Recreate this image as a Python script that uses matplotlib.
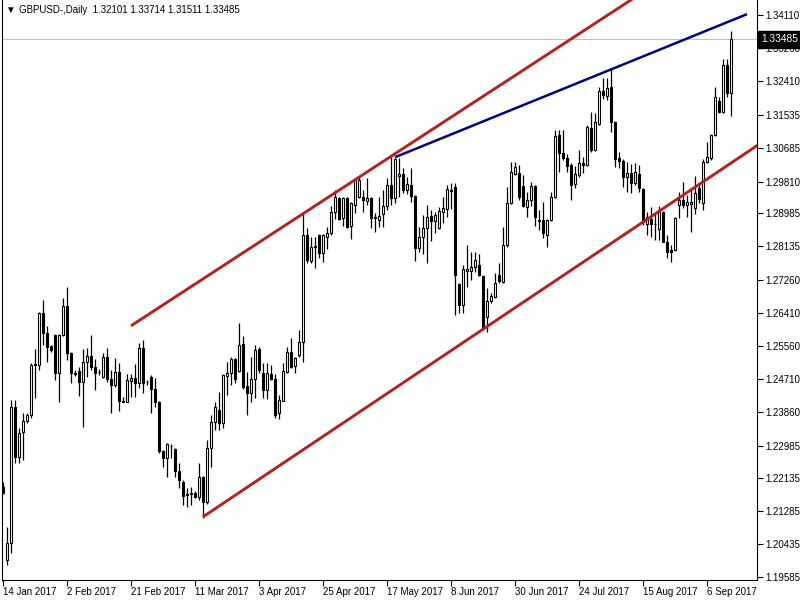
import matplotlib
matplotlib.use('Agg')
import matplotlib.pyplot as plt
import numpy as np

plt.rcParams['font.family'] = ['Liberation Sans', 'DejaVu Sans']

symbol = 'GBPUSD-,Daily'

# daily OHLC
opens = [
    1.2191, 1.2002, 1.2046, 1.2398, 1.2269, 1.2333, 1.2362, 1.2377, 1.2507, 1.2507,
    1.2641, 1.2590, 1.2556, 1.2584, 1.2486, 1.2584, 1.2659, 1.2538, 1.2486, 1.2491,
    1.2463, 1.2514, 1.2530, 1.2502, 1.2488, 1.2476, 1.2527, 1.2470, 1.2455, 1.2489,
    1.2414, 1.2412, 1.2465, 1.2473, 1.2460, 1.2551, 1.2462, 1.2476, 1.2445, 1.2411,
    1.2284, 1.2266, 1.2298, 1.2289, 1.2233, 1.2204, 1.2171, 1.2174, 1.2176, 1.2165,
    1.2217, 1.2152, 1.2292, 1.2359, 1.2390, 1.2357, 1.2478, 1.2486, 1.2522, 1.2491,
    1.2561, 1.2452, 1.2434, 1.2470, 1.2548, 1.2486, 1.2442, 1.2483, 1.2470, 1.2383,
    1.2414, 1.2489, 1.2540, 1.2504, 1.2533, 1.2566, 1.2843, 1.2776, 1.2812, 1.2843,
    1.2796, 1.2838, 1.2848, 1.2902, 1.2939, 1.2887, 1.2939, 1.2866, 1.2920, 1.2941,
    1.2941, 1.2931, 1.2939, 1.2887, 1.2882, 1.2897, 1.2918, 1.2972, 1.2939, 1.2995,
    1.3001, 1.2959, 1.2972, 1.2944, 1.2809, 1.2838, 1.2861, 1.2892, 1.2879, 1.2861,
    1.2902, 1.2910, 1.2959, 1.2967, 1.2716, 1.2662, 1.2750, 1.2750, 1.2760, 1.2765,
    1.2737, 1.2631, 1.2672, 1.2683, 1.2740, 1.2721, 1.2817, 1.2926, 1.3001, 1.3003,
    1.2970, 1.2915, 1.2933, 1.2970, 1.2879, 1.2882, 1.2843, 1.2882, 1.2941, 1.3101,
    1.3055, 1.3042, 1.3024, 1.2975, 1.2998, 1.3029, 1.3024, 1.3120, 1.3063, 1.3130,
    1.3215, 1.3202, 1.3226, 1.3135, 1.3042, 1.3034, 1.2993, 1.3003, 1.2977, 1.3001,
    1.2962, 1.2871, 1.2884, 1.2872, 1.2858, 1.2902, 1.2825, 1.2804, 1.2804, 1.2920,
    1.2933, 1.2920, 1.2923, 1.2913, 1.2964, 1.2926, 1.3032, 1.3042, 1.3101, 1.3189,
    1.3161, 1.3282, 1.32101,
]
highs = [
    1.2204, 1.2088, 1.2416, 1.2416, 1.2344, 1.2383, 1.2383, 1.2512, 1.2548, 1.2643,
    1.2675, 1.2608, 1.2558, 1.2586, 1.2586, 1.2680, 1.2708, 1.2540, 1.2494, 1.2502,
    1.2548, 1.2551, 1.2584, 1.2522, 1.2496, 1.2538, 1.2551, 1.2494, 1.2525, 1.2512,
    1.2424, 1.2483, 1.2483, 1.2509, 1.2564, 1.2571, 1.2468, 1.2481, 1.2473, 1.2413,
    1.2286, 1.2304, 1.2302, 1.2291, 1.2253, 1.2209, 1.2189, 1.2191, 1.2181, 1.2253,
    1.2219, 1.2313, 1.2377, 1.2411, 1.2437, 1.2483, 1.2514, 1.2527, 1.2524, 1.2615,
    1.2582, 1.2489, 1.2527, 1.2558, 1.2553, 1.2512, 1.2512, 1.2507, 1.2483, 1.2429,
    1.2512, 1.2553, 1.2577, 1.2527, 1.2597, 1.2900, 1.2861, 1.2838, 1.2838, 1.2845,
    1.2845, 1.2864, 1.2918, 1.2959, 1.2941, 1.2941, 1.2941, 1.2928, 1.2987, 1.2995,
    1.2959, 1.2990, 1.2941, 1.2900, 1.2941, 1.2959, 1.2990, 1.3045, 1.3042, 1.3042,
    1.3016, 1.2993, 1.3016, 1.2946, 1.2864, 1.2895, 1.2920, 1.2908, 1.2902, 1.2915,
    1.2941, 1.2972, 1.2977, 1.2977, 1.2719, 1.2765, 1.2817, 1.2799, 1.2799, 1.2794,
    1.2739, 1.2706, 1.2693, 1.2745, 1.2770, 1.2864, 1.2967, 1.3032, 1.3032, 1.3024,
    1.2998, 1.2954, 1.2980, 1.2972, 1.2908, 1.2928, 1.2884, 1.2954, 1.3114, 1.3114,
    1.3114, 1.3052, 1.3029, 1.3021, 1.3063, 1.3045, 1.3127, 1.3161, 1.3158, 1.3226,
    1.3249, 1.3249, 1.3272, 1.3137, 1.3058, 1.3039, 1.3032, 1.3027, 1.3029, 1.3024,
    1.2964, 1.2902, 1.2915, 1.2897, 1.2918, 1.2905, 1.2843, 1.2817, 1.2889, 1.2954,
    1.2980, 1.2946, 1.2964, 1.2995, 1.2975, 1.3039, 1.3083, 1.3104, 1.3226, 1.3200,
    1.3298, 1.3298, 1.33714,
]
lows = [
    1.2173, 1.1989, 1.2021, 1.2253, 1.2253, 1.2261, 1.2357, 1.2370, 1.2421, 1.2494,
    1.2558, 1.2514, 1.2540, 1.2468, 1.2411, 1.2582, 1.2520, 1.2460, 1.2478, 1.2427,
    1.2346, 1.2476, 1.2494, 1.2442, 1.2481, 1.2474, 1.2463, 1.2383, 1.2450, 1.2388,
    1.2411, 1.2410, 1.2424, 1.2424, 1.2447, 1.2434, 1.2455, 1.2383, 1.2398, 1.2279,
    1.2243, 1.2217, 1.2266, 1.2217, 1.2189, 1.2145, 1.2140, 1.2145, 1.2163, 1.2158,
    1.2111, 1.2147, 1.2243, 1.2339, 1.2339, 1.2344, 1.2429, 1.2455, 1.2460, 1.2489,
    1.2445, 1.2377, 1.2411, 1.2421, 1.2486, 1.2421, 1.2419, 1.2468, 1.2370, 1.2367,
    1.2413, 1.2486, 1.2499, 1.2486, 1.2527, 1.2514, 1.2770, 1.2770, 1.2758, 1.2783,
    1.2773, 1.2807, 1.2843, 1.2884, 1.2882, 1.2866, 1.2862, 1.2833, 1.2900, 1.2939,
    1.2902, 1.2920, 1.2861, 1.2851, 1.2864, 1.2864, 1.2908, 1.2920, 1.2926, 1.2941,
    1.2952, 1.2949, 1.2928, 1.2776, 1.2799, 1.2794, 1.2770, 1.2827, 1.2848, 1.2858,
    1.2874, 1.2889, 1.2910, 1.2636, 1.2641, 1.2641, 1.2708, 1.2727, 1.2747, 1.2738,
    1.2597, 1.2592, 1.2667, 1.2680, 1.2719, 1.2719, 1.2812, 1.2924, 1.2998, 1.2933,
    1.2915, 1.2889, 1.2918, 1.2866, 1.2856, 1.2835, 1.2812, 1.2880, 1.2939, 1.3006,
    1.3037, 1.3006, 1.2933, 1.2964, 1.2993, 1.3003, 1.3021, 1.3058, 1.3061, 1.3127,
    1.3195, 1.3192, 1.3109, 1.3019, 1.3016, 1.2967, 1.2954, 1.2952, 1.2972, 1.2954,
    1.2869, 1.2843, 1.2838, 1.2830, 1.2830, 1.2825, 1.2783, 1.2773, 1.2802, 1.2887,
    1.2913, 1.2889, 1.2851, 1.2897, 1.2926, 1.2908, 1.3029, 1.3037, 1.3099, 1.3158,
    1.3158, 1.3200, 1.31511,
]
closes = [
    1.2176, 1.2046, 1.2398, 1.2269, 1.2331, 1.2362, 1.2377, 1.2507, 1.2509, 1.2641,
    1.2590, 1.2553, 1.2546, 1.2486, 1.2584, 1.2659, 1.2538, 1.2486, 1.2484, 1.2463,
    1.2514, 1.2530, 1.2502, 1.2486, 1.2489, 1.2527, 1.2470, 1.2455, 1.2489, 1.2414,
    1.2412, 1.2468, 1.2473, 1.2460, 1.2551, 1.2460, 1.2463, 1.2445, 1.2411, 1.2284,
    1.2266, 1.2302, 1.2297, 1.2233, 1.2209, 1.2168, 1.2173, 1.2176, 1.2165, 1.2217,
    1.2152, 1.2292, 1.2359, 1.2398, 1.2357, 1.2481, 1.2486, 1.2522, 1.2470, 1.2558,
    1.2450, 1.2434, 1.2470, 1.2546, 1.2494, 1.2442, 1.2486, 1.2470, 1.2377, 1.2416,
    1.2491, 1.2540, 1.2502, 1.2525, 1.2566, 1.2843, 1.2778, 1.2812, 1.2814, 1.2796,
    1.2843, 1.2848, 1.2902, 1.2941, 1.2884, 1.2939, 1.2864, 1.2926, 1.2985, 1.2985,
    1.2933, 1.2939, 1.2887, 1.2889, 1.2892, 1.2918, 1.2972, 1.2939, 1.3039, 1.3001,
    1.2959, 1.2975, 1.2944, 1.2809, 1.2838, 1.2861, 1.2889, 1.2879, 1.2895, 1.2905,
    1.2913, 1.2962, 1.2957, 1.2740, 1.2662, 1.2755, 1.2755, 1.2760, 1.2778, 1.2740,
    1.2602, 1.2672, 1.2685, 1.2719, 1.2724, 1.2817, 1.2926, 1.3006, 1.3019, 1.2941,
    1.2918, 1.2933, 1.2970, 1.2889, 1.2881, 1.2848, 1.2882, 1.2941, 1.3099, 1.3055,
    1.3042, 1.3021, 1.2972, 1.3001, 1.3029, 1.3024, 1.3122, 1.3063, 1.3135, 1.3215,
    1.3205, 1.3223, 1.3135, 1.3039, 1.3034, 1.2993, 1.3003, 1.2977, 1.3006, 1.2964,
    1.2877, 1.2889, 1.2871, 1.2871, 1.2902, 1.2825, 1.2799, 1.2799, 1.2887, 1.2933,
    1.2920, 1.2928, 1.2928, 1.2952, 1.2936, 1.3032, 1.3045, 1.3101, 1.3200, 1.3161,
    1.3282, 1.3210, 1.33485,
]

date_labels = ['14 Jan 2017', '2 Feb 2017', '21 Feb 2017', '11 Mar 2017', '3 Apr 2017',
               '25 Apr 2017', '17 May 2017', '8 Jun 2017', '30 Jun 2017', '24 Jul 2017',
               '15 Aug 2017', '6 Sep 2017']
bars_per_label = 16

price_ticks = [1.34110, 1.33260, 1.32410, 1.31535, 1.30685, 1.29810, 1.28985, 1.28135,
               1.27260, 1.26410, 1.25560, 1.24710, 1.23860, 1.22985, 1.22135, 1.21285,
               1.20435, 1.19585]

# trendlines as (bar, price) pairs
upper_channel = [(32, 1.2608), (160, 1.3471)]
lower_channel = [(50, 1.2114), (195, 1.3119)]
top_line = [(98, 1.3044), (186, 1.3414)]

o = np.array(opens)
h = np.array(highs)
l = np.array(lows)
c = np.array(closes)
idx = np.arange(len(o))
up = c >= o

fig = plt.figure(figsize=(8, 6), dpi=100)
ax = fig.add_axes([1.5 / 800, 1 - 579.5 / 600, 755 / 800, 579.5 / 600])

# last price line
ax.axhline(c[-1], color='#c0c0c0', lw=0.8, zorder=1)

# candles
ax.vlines(idx, l, h, color='black', lw=0.9, zorder=2)
body = np.maximum(np.abs(c - o), 0.00004)
ax.bar(idx, body, bottom=np.minimum(o, c), width=0.55,
       color=np.where(up, 'white', 'black'), edgecolor='black', linewidth=0.8, zorder=3)

for line, col, lw in [(upper_channel, '#B22222', 2.1), (lower_channel, '#B22222', 2.1),
                      (top_line, '#000080', 1.8)]:
    xs, ys = zip(*line)
    ax.plot(xs, ys, color=col, lw=lw, solid_capstyle='butt', zorder=4)

ax.set_xlim(-0.375, 188.375)
ax.set_ylim(1.1952, 1.34506)

ax.yaxis.tick_right()
ax.set_yticks(price_ticks)
ax.set_yticklabels([f'{v:.5f}' for v in price_ticks])
ax.set_xticks(range(0, len(date_labels) * bars_per_label, bars_per_label))
ax.set_xticklabels(date_labels, ha='left')
ax.tick_params(axis='y', direction='out', length=4, width=0.8, labelsize=7, pad=2)
ax.tick_params(axis='x', direction='out', length=4, width=0.8, labelsize=7, pad=1.5)

ax.spines['top'].set_visible(False)
for s in ['left', 'right', 'bottom']:
    ax.spines[s].set_linewidth(0.8)
    ax.spines[s].set_color('black')

# current price box on the right scale
ax.text(1.0065, c[-1], f'{c[-1]:.5f}', transform=ax.get_yaxis_transform(),
        ha='left', va='center', color='white', fontsize=7.3, clip_on=False, zorder=10,
        bbox=dict(boxstyle='square,pad=0.3', fc='black', ec='black'))

# header
fig.text(5 / 800, 1 - 10 / 600, '\u25bc', fontsize=7, va='center', ha='left')
fig.text(19 / 800, 1 - 10 / 600,
         f'{symbol}  {opens[-1]:.5f} {highs[-1]:.5f} {lows[-1]:.5f} {closes[-1]:.5f}',
         fontsize=7, va='center', ha='left')

fig.savefig('out.png', dpi=100)
